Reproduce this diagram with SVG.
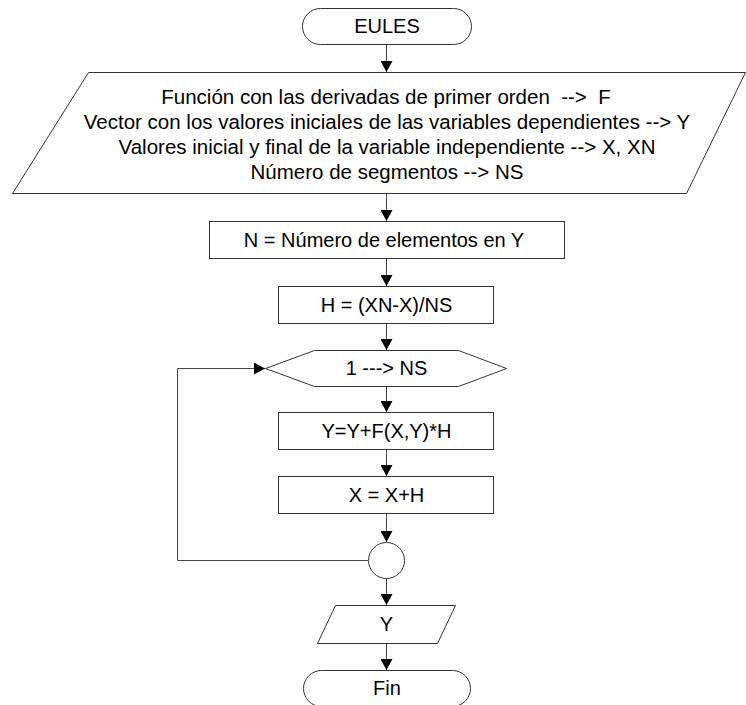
<svg xmlns="http://www.w3.org/2000/svg" width="746" height="705" viewBox="0 0 746 705">
  <defs>
    <marker id="arrow" markerUnits="userSpaceOnUse" markerWidth="12" markerHeight="12" refX="11" refY="6" orient="auto">
      <path d="M0,0 L11,6 L0,12 Z" fill="#000"/>
    </marker>
    <style>
      .shape { fill: #fff; stroke: #333; stroke-width: 1; }
      .edge { fill: none; stroke: #444; stroke-width: 1; marker-end: url(#arrow); }
      .edge-plain { fill: none; stroke: #444; stroke-width: 1; }
      text { font-family: "Liberation Sans", Arial, sans-serif; font-size: 20px; fill: #000; text-anchor: middle; }
      .io text { font-size: 20.5px; }
    </style>
  </defs>
  <rect width="746" height="705" fill="#fff"/>

  <!-- connectors -->
  <g id="connectors">
    <path class="edge" d="M386.5,44 V72"/>
    <path class="edge" d="M386.5,193 V221"/>
    <path class="edge" d="M386.5,259 V286"/>
    <path class="edge" d="M386.5,323 V350"/>
    <path class="edge" d="M386.5,387 V412"/>
    <path class="edge" d="M386.5,450 V476"/>
    <path class="edge" d="M386.5,514 V542"/>
    <path class="edge" d="M386.5,578 V605"/>
    <path class="edge" d="M386.5,643 V670"/>
    <!-- loop back to the counter -->
    <path class="edge" d="M368,560.5 H177.5 V368.5 H265"/>
  </g>

  <g id="start">
    <rect class="shape" x="302.5" y="8.5" width="169" height="36" rx="18" ry="18"/>
    <text x="387" y="33">EULES</text>
  </g>

  <g id="input" class="io">
    <polygon class="shape" points="88.5,72.5 745.5,72.5 686.5,193.5 12.5,193.5"/>
    <text x="386" y="104" xml:space="preserve">Función con las derivadas de primer orden  -->  F</text>
    <text x="387" y="129">Vector con los valores iniciales de las variables dependientes --> Y</text>
    <text x="387" y="154">Valores inicial y final de la variable independiente --> X, XN</text>
    <text x="387" y="179">Número de segmentos --> NS</text>
  </g>

  <g id="count">
    <rect class="shape" x="209.5" y="221.5" width="355" height="37"/>
    <text x="384" y="247">N = Número de elementos en Y</text>
  </g>

  <g id="step">
    <rect class="shape" x="278.5" y="286.5" width="215" height="37"/>
    <text x="386.5" y="312">H = (XN-X)/NS</text>
  </g>

  <g id="loop">
    <polygon class="shape" points="265.5,368.5 314.5,350.5 458.5,350.5 506.5,368.5 458.5,386.5 314.5,386.5"/>
    <text x="386.5" y="375">1 ---> NS</text>
  </g>

  <g id="update-y">
    <rect class="shape" x="278.5" y="412.5" width="215" height="37"/>
    <text x="386.5" y="438">Y=Y+F(X,Y)*H</text>
  </g>

  <g id="update-x">
    <rect class="shape" x="278.5" y="476.5" width="215" height="37"/>
    <text x="386.5" y="502">X = X+H</text>
  </g>

  <g id="join">
    <circle class="shape" cx="386.5" cy="560.5" r="18"/>
  </g>

  <g id="output">
    <polygon class="shape" points="335.5,605.5 455.5,605.5 437.5,643.5 317.5,643.5"/>
    <text x="386.5" y="631">Y</text>
  </g>

  <g id="end">
    <rect class="shape" x="303.5" y="670.5" width="167" height="36" rx="18" ry="18"/>
    <text x="387" y="695">Fin</text>
  </g>
</svg>
